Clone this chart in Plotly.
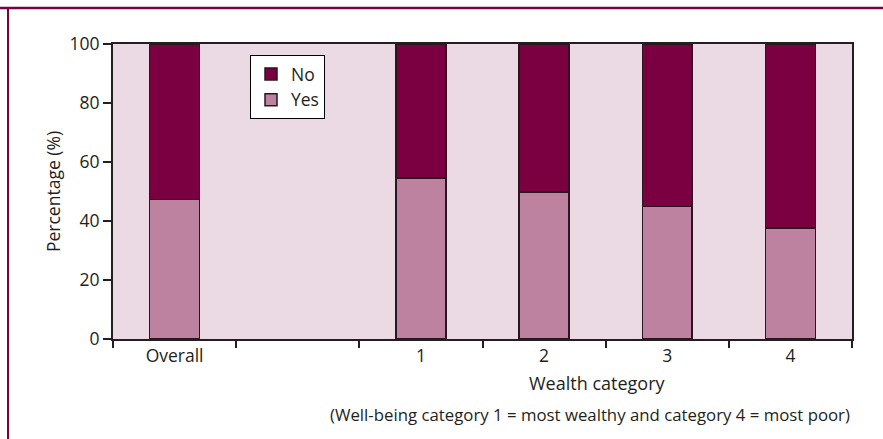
import plotly.graph_objects as go

# Share of households answering yes / no, overall and by wealth category
categories = ["Overall", " ", "1", "2", "3", "4"]
yes_pct = [47.3, None, 54.5, 49.8, 44.9, 37.6]
no_pct = [None if v is None else round(100 - v, 1) for v in yes_pct]

y_ticks = [0, 20, 40, 60, 80, 100]

NO_COLOR = "#7b0042"
YES_COLOR = "#bd82a0"
PLOT_BG = "#ebdae3"
FRAME = "#7b0042"
INK = "#231f20"
FONT = "Open Sans"

fig = go.Figure()
fig.add_trace(go.Bar(
    name="Yes", x=categories, y=yes_pct, width=0.405,
    marker=dict(color=YES_COLOR, line=dict(color="#2b1620", width=1.5)),
))
fig.add_trace(go.Bar(
    name="No", x=categories, y=no_pct, width=0.405,
    marker=dict(color=NO_COLOR, line=dict(color="#2b1620", width=1.5)),
))

W, H = 883, 439
L, R, T, B = 113, 31, 44, 100
pw, ph = W - L - R, H - T - B


def px_x(px):
    return (px - L) / pw


def px_y(py):
    return (H - B - py) / ph


fig.update_layout(
    width=W, height=H,
    margin=dict(l=L, r=R, t=T, b=B, pad=0),
    barmode="stack",
    paper_bgcolor="white",
    plot_bgcolor=PLOT_BG,
    font=dict(family=FONT, size=17, color=INK),
    showlegend=True,
    legend=dict(
        x=px_x(250), y=px_y(55), xanchor="left", yanchor="top",
        bgcolor="white", bordercolor="black", borderwidth=1,
        font=dict(size=17.5, color=INK), traceorder="reversed",
        itemwidth=30, tracegroupgap=0,
    ),
    xaxis=dict(
        type="category", categoryorder="array", categoryarray=categories,
        tickson="boundaries", ticks="outside", ticklen=7, tickwidth=1.5,
        tickcolor=INK, showline=True, linecolor=INK, linewidth=1.5,
        mirror=True, showgrid=False, tickfont=dict(size=17.5, color=INK),
        fixedrange=True,
    ),
    yaxis=dict(
        range=[0, 100], tickvals=y_ticks, ticks="outside", ticklen=8,
        tickwidth=1.5, tickcolor=INK, showline=True, linecolor=INK,
        linewidth=2, mirror=True, showgrid=False, zeroline=False,
        tickfont=dict(size=17.5, color=INK),
        title=dict(text="Percentage (%)", font=dict(size=17.5, color=INK), standoff=4),
    ),
    annotations=[
        dict(text="Wealth category", x=px_x(597), y=px_y(383), xref="paper",
             yref="paper", showarrow=False, font=dict(size=18, color=INK),
             xanchor="center", yanchor="middle"),
        dict(text="(Well-being category 1 = most wealthy and category 4 = most poor)",
             x=px_x(590), y=px_y(414), xref="paper", yref="paper",
             showarrow=False, font=dict(size=16.8, color=INK),
             xanchor="center", yanchor="middle"),
    ],
    shapes=[
        # maroon frame: top rule and left rule
        dict(type="line", xref="paper", yref="paper", x0=px_x(0), x1=px_x(W),
             y0=px_y(8), y1=px_y(8), line=dict(color=FRAME, width=2.5)),
        dict(type="line", xref="paper", yref="paper", x0=px_x(8), x1=px_x(8),
             y0=px_y(8), y1=px_y(H), line=dict(color=FRAME, width=2)),
    ],
)

fig.write_html("out.html", config={"displayModeBar": False})
